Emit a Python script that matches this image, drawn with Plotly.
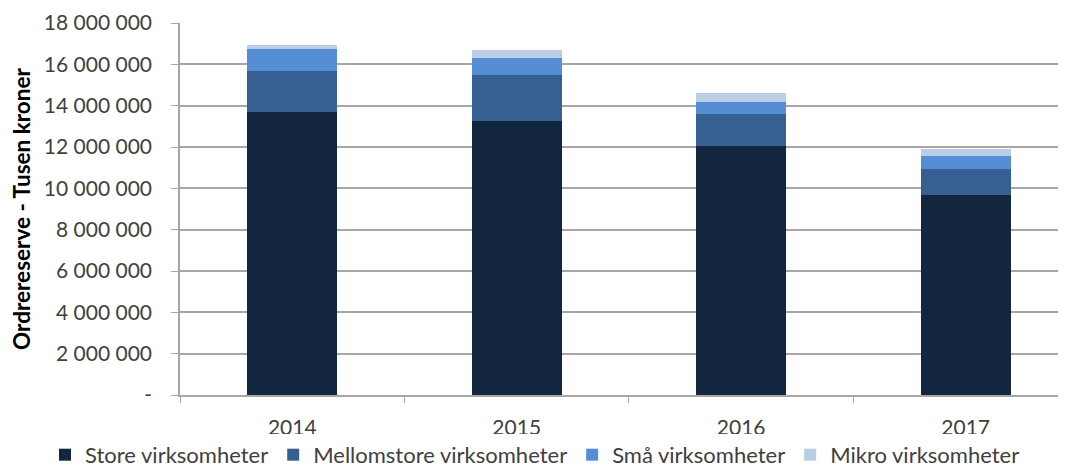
import plotly.graph_objects as go

years = ["2014", "2015", "2016", "2017"]
store = [13690000, 13260000, 12030000, 9690000]
mellomstore = [2000000, 2210000, 1560000, 1230000]
smaa = [1060000, 830000, 600000, 660000]
mikro = [180000, 390000, 410000, 340000]

series_names = ["Store virksomheter", "Mellomstore virksomheter", "Små virksomheter", "Mikro virksomheter"]
series_values = [store, mellomstore, smaa, mikro]
colors = ["#12263F", "#366092", "#558ED5", "#B9CDE5"]

ytick_vals = [0, 2000000, 4000000, 6000000, 8000000, 10000000, 12000000, 14000000, 16000000, 18000000]
ytick_text = ["-", "2 000 000", "4 000 000", "6 000 000", "8 000 000", "10 000 000",
              "12 000 000", "14 000 000", "16 000 000", "18 000 000"]

FONT = "Lato, Liberation Sans, sans-serif"
TXT = "#404040"

fig = go.Figure()
for name, vals, col in zip(series_names, series_values, colors):
    fig.add_trace(go.Bar(x=years, y=vals, name=name, marker=dict(color=col, line=dict(width=0))))

fig.update_layout(
    barmode="stack",
    bargap=0.6,
    width=1058, height=460,
    margin=dict(l=172, r=0, t=15, b=73, autoexpand=False),
    paper_bgcolor="white", plot_bgcolor="white",
    font=dict(family=FONT, size=21, color=TXT),
    showlegend=True,
    legend=dict(orientation="h", x=-0.1524, xanchor="left", y=-0.161, yanchor="middle",
                font=dict(size=22, color=TXT), traceorder="normal", itemwidth=30),
    xaxis=dict(type="category", range=[-0.5, 3.447], showgrid=False, automargin=False,
               showline=True, linecolor="#a6a6a6", linewidth=1.5,
               ticks="outside", tickson="boundaries", ticklen=6, tickcolor="#a6a6a6",
               ticklabelstandoff=13, tickfont=dict(size=21, color=TXT)),
    yaxis=dict(range=[0, 18000000], tickvals=ytick_vals, ticktext=ytick_text, automargin=False,
               showgrid=True, gridcolor="#a6a6a6", gridwidth=1.5,
               showline=True, linecolor="#a6a6a6", linewidth=1.5,
               ticks="outside", ticklen=7, tickcolor="#a6a6a6",
               ticklabelstandoff=15, tickfont=dict(size=21, color=TXT),
               zeroline=False,
               title=dict(text="<b>Ordrereserve - Tusen kroner</b>", font=dict(size=22.5, color="#000000"),
                          standoff=13)),
)

fig.write_html("out.html")
